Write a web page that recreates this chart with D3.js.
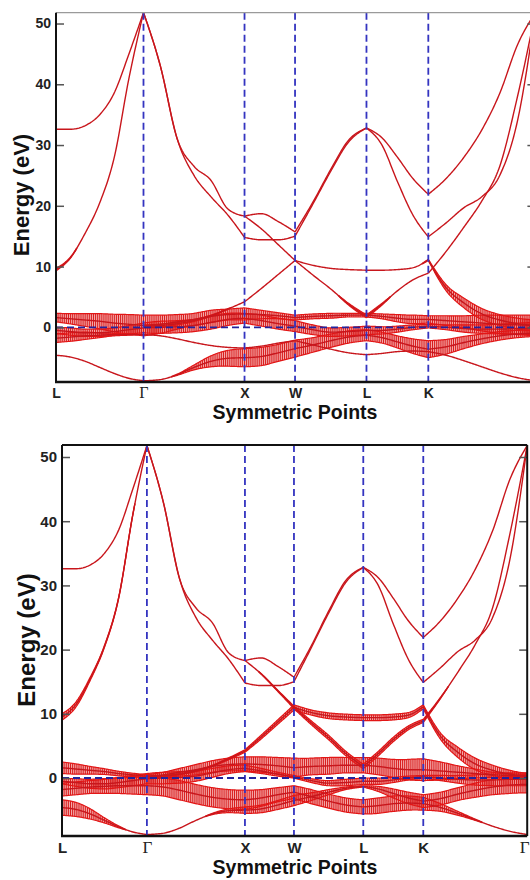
<!DOCTYPE html>
<html><head><meta charset="utf-8">
<script src="https://cdn.jsdelivr.net/npm/d3@7"></script>
<style>body{margin:0;background:#fff}svg{display:block}</style>
</head><body>
<svg id="c" width="530" height="880"></svg>
<script>
// ---------- data ----------
const kGrid = [0, 0.144, 0.289, 0.433, 0.577, 0.722, 0.866, 1.033, 1.2, 1.366, 1.533, 1.7, 1.866,
  2.033, 2.2, 2.366, 2.543, 2.72, 2.896, 3.073, 3.226, 3.379, 3.532, 3.685, 3.862, 4.038, 4.215, 4.392, 4.568, 4.745];
const kNodeIdx = [0, 6, 12, 15, 19, 23, 29];
const kLabels = ["L", "Γ", "X", "W", "L", "K", "Γ"];
const energyTicks = [0, 10, 20, 30, 40, 50];
const N = null;

const bandHC = [32.6, 32.6, 33.2, 35.0, 38.6, 45.0, 51.8, 43.0, 31.0, 26.5, 24.2, 19.5, 18.3, 18.7, 17.4, 15.7, 20.6, 26.0, 30.8, 32.8, 31.2, 28.0, 24.5, 21.9, 24.5, 28.0, 32.5, 38.5, 46.5, 51.8];
const bandHD = [9.5, 11.5, 15.5, 20.5, 28.0, 41.0, 51.8, 43.0, 31.0, 25.0, 21.5, 18.5, 14.8, 14.4, 14.4, 15.0, 20.3, 25.7, 30.5, 32.8, 30.0, 24.0, 18.5, 14.9, 17.2, 19.7, 21.5, 25.0, 34.0, 51.8];
const bandHE = [N, N, N, N, N, N, N, N, N, N, N, N, 18.3, 16.2, 13.6, 11.0, 8.6, 6.3, 3.8, 1.8, 3.8, 6.0, 7.8, 8.9, 12.5, 16.5, 20.8, 26.5, 38.0, 51.8];
const bandT1 = [N, N, N, N, N, N, 0.2, 0.3, 0.6, 1.1, 1.9, 3.0, 4.2, 6.4, 8.7, 11.0, 10.2, 9.7, 9.5, 9.4, 9.4, 9.5, 9.8, 11.1, 6.5, 4.0, 2.2, 1.2, 0.6, 0.3];
const bandF1 = [1.6, 1.4, 1.2, 1.0, 0.7, 0.5, 0.3, 0.5, 0.9, 1.3, 1.8, 2.1, 2.2, 2.1, 1.9, 1.6, 1.8, 1.9, 2.0, 2.0, 1.8, 1.5, 1.3, 1.3, 1.1, 0.9, 0.7, 0.5, 0.4, 0.3];
const bandF2 = [-0.5, -0.7, -0.9, -0.9, -0.7, -0.4, -0.1, 0.0, 0.1, 0.3, 0.8, 1.3, 1.5, 1.1, 0.6, 0.2, -0.4, -0.8, -0.7, -0.5, -0.5, -0.3, 0.0, 0.2, 0.0, -0.2, -0.3, -0.3, -0.2, -0.2];
const bandB0 = [-1.8, -1.6, -1.4, -1.3, -1.2, -1.2, -1.2, -1.4, -1.9, -2.5, -3.0, -3.3, -3.4, -3.1, -2.6, -2.2, -2.9, -3.6, -4.2, -4.5, -4.3, -4.0, -3.9, -4.0, -4.6, -5.5, -6.5, -7.5, -8.3, -8.8];
const bandB1 = [-4.6, -4.9, -5.6, -6.6, -7.6, -8.4, -8.8, -8.6, -7.8, -6.6, -5.6, -5.1, -5.0, -4.8, -4.2, -3.5, -2.9, -2.2, -1.6, -1.3, -1.7, -2.4, -3.1, -3.6, -3.2, -2.5, -1.9, -1.4, -1.1, -1.0];

// fat-band half widths (eV), top panel
const wTopHD = [0.2, 0.1, 0, 0, 0, 0, 0, 0, 0, 0, 0, 0, 0, 0, 0, 0, 0, 0, 0, 0, 0, 0, 0, 0, 0, 0, 0, 0, 0, 0];
const wTopHE = [0, 0, 0, 0, 0, 0, 0, 0, 0, 0, 0, 0, 0, 0, 0, 0, 0, 0, 0.15, 0.25, 0.15, 0, 0, 0, 0, 0, 0, 0, 0, 0];
const wTopT1 = [0, 0, 0, 0, 0, 0, 0.2, 0.2, 0.2, 0.15, 0.1, 0.05, 0, 0, 0, 0, 0, 0, 0, 0, 0, 0, 0, 0.1, 0.5, 0.8, 0.9, 0.9, 0.9, 0.9];
const wTopF1 = [0.7, 0.85, 1.05, 1.25, 1.45, 1.6, 1.7, 1.5, 1.2, 1.0, 1.0, 0.9, 1.0, 0.7, 0.5, 0.4, 0.4, 0.4, 0.3, 0.3, 0.4, 0.6, 0.7, 0.6, 0.8, 1.0, 1.3, 1.5, 1.6, 1.7];
const wTopF2 = [0.5, 0.6, 0.6, 0.6, 0.6, 0.7, 0.8, 1.0, 1.0, 1.0, 1.1, 1.0, 0.8, 0.9, 0.9, 0.9, 0.8, 0.7, 0.7, 0.7, 0.6, 0.5, 0.4, 0.3, 0.4, 0.6, 0.7, 0.8, 0.9, 1.0];
const wTopB0 = [0.7, 0.7, 0.6, 0.4, 0.2, 0.1, 0, 0, 0, 0, 0, 0, 0, 0, 0, 0, 0, 0, 0, 0, 0, 0, 0, 0, 0, 0, 0, 0, 0, 0];
const wTopB1 = [0, 0, 0, 0, 0, 0, 0, 0, 0.1, 0.4, 0.9, 1.3, 1.5, 1.5, 1.4, 1.4, 1.2, 1.1, 1.0, 0.9, 0.9, 1.0, 1.2, 1.4, 1.2, 1.0, 0.8, 0.7, 0.6, 0.5];

// fat-band half widths (eV), bottom panel
const wBotHD = [0.5, 0.4, 0.25, 0.15, 0.1, 0.05, 0, 0, 0, 0, 0, 0, 0, 0, 0, 0, 0, 0, 0, 0, 0, 0, 0, 0, 0, 0, 0, 0, 0, 0];
const wBotHE = [0, 0, 0, 0, 0, 0, 0, 0, 0, 0, 0, 0, 0, 0.05, 0.1, 0.2, 0.3, 0.35, 0.35, 0.35, 0.35, 0.35, 0.3, 0.25, 0.1, 0, 0, 0, 0, 0];
const wBotT1 = [0, 0, 0, 0, 0, 0, 0.1, 0.1, 0.1, 0.1, 0.1, 0.15, 0.2, 0.3, 0.35, 0.4, 0.4, 0.45, 0.45, 0.45, 0.45, 0.45, 0.4, 0.3, 0.5, 0.8, 0.9, 0.8, 0.6, 0.4];
const wBotF1 = [0.9, 0.8, 0.6, 0.45, 0.35, 0.25, 0.2, 0.4, 0.6, 0.8, 0.9, 1.0, 1.1, 1.2, 1.3, 1.5, 1.3, 1.3, 1.2, 1.2, 1.3, 1.4, 1.6, 1.7, 1.4, 1.0, 0.7, 0.4, 0.3, 0.2];
const wBotF2 = [0.4, 0.6, 0.7, 0.8, 0.8, 0.8, 0.8, 0.9, 0.9, 0.8, 0.7, 0.6, 0.5, 0.4, 0.3, 0.2, 0.3, 0.4, 0.5, 0.5, 0.5, 0.4, 0.3, 0.2, 0.4, 0.6, 0.8, 0.9, 1.0, 1.0];
const wBotB0 = [1.0, 1.0, 1.0, 1.1, 1.2, 1.3, 1.4, 1.4, 1.5, 1.5, 1.5, 1.5, 1.5, 1.3, 1.1, 1.0, 1.1, 1.1, 1.1, 1.1, 1.2, 1.2, 1.1, 1.0, 0.6, 0.3, 0.1, 0, 0, 0];
const wBotB1 = [1.2, 1.1, 0.8, 0.4, 0.15, 0, 0, 0, 0, 0, 0.1, 0.3, 0.5, 0.6, 0.7, 0.8, 0.6, 0.4, 0.2, 0.1, 0.4, 0.7, 0.9, 1.0, 1.0, 1.0, 1.1, 1.2, 1.3, 1.3];

const bands = [
  { E: bandB1, wTop: wTopB1, wBot: wBotB1 },
  { E: bandB0, wTop: wTopB0, wBot: wBotB0 },
  { E: bandF2, wTop: wTopF2, wBot: wBotF2 },
  { E: bandF1, wTop: wTopF1, wBot: wBotF1 },
  { E: bandT1, wTop: wTopT1, wBot: wBotT1 },
  { E: bandHE, wTop: wTopHE, wBot: wBotHE },
  { E: bandHD, wTop: wTopHD, wBot: wBotHD },
  { E: bandHC, wTop: null, wBot: null }
];

// ---------- helpers ----------
function slopes(xs, ys) {
  const n = xs.length, t = new Array(n).fill(0), h = [], s = [];
  for (let i = 0; i < n - 1; i++) { h[i] = xs[i + 1] - xs[i]; s[i] = (ys[i + 1] - ys[i]) / h[i]; }
  if (n === 2) { t[0] = t[1] = s[0]; return t; }
  const sg = v => v < 0 ? -1 : 1;
  for (let i = 1; i < n - 1; i++) {
    const p = (s[i - 1] * h[i] + s[i] * h[i - 1]) / (h[i - 1] + h[i]);
    t[i] = (sg(s[i - 1]) + sg(s[i])) * Math.min(Math.abs(s[i - 1]), Math.abs(s[i]), 0.5 * Math.abs(p)) || 0;
  }
  t[0] = (3 * s[0] - t[1]) / 2;
  t[n - 1] = (3 * s[n - 2] - t[n - 2]) / 2;
  return t;
}
function hermite(xs, ys, t, x) {
  let i = 0; while (i < xs.length - 2 && x > xs[i + 1]) i++;
  const h = xs[i + 1] - xs[i], u = (x - xs[i]) / h, u2 = u * u, u3 = u2 * u;
  return (2 * u3 - 3 * u2 + 1) * ys[i] + (u3 - 2 * u2 + u) * h * t[i] + (-2 * u3 + 3 * u2) * ys[i + 1] + (u3 - u2) * h * t[i + 1];
}

const svg = d3.select("#c");
const FONT = "'Liberation Sans', Arial, Helvetica, sans-serif";
const SERIF = "'Liberation Serif', 'DejaVu Serif', serif";

const panels = [
  { id: "p1", key: "wTop", xr: [56, 535.4], yr: [382, 12.7], yd: [-9.0, 51.78],
    tickFs: 14, labFs: 14, labDy: 16, titleFs: 22, titleX: 29, titleY: 195, symY: 419, topColor: "#9a9a9a", rightAxis: false },
  { id: "p2", key: "wBot", xr: [62, 527.2], yr: [836, 445], yd: [-9.03, 51.87],
    tickFs: 15, labFs: 15, labDy: 17, titleFs: 24, titleX: 35, titleY: 640, symY: 874, topColor: "#111", rightAxis: true }
];

panels.forEach(p => {
  const kEnd = kGrid[kGrid.length - 1];
  const x = d3.scaleLinear().domain([0, kEnd]).range(p.xr);
  const y = d3.scaleLinear().domain(p.yd).range(p.yr);
  const [X0, X1] = p.xr, [Y1, Y0] = p.yr;

  svg.append("clipPath").attr("id", "clip" + p.id).append("rect")
    .attr("x", X0).attr("y", Y0 - 2).attr("width", X1 - X0).attr("height", Y1 - Y0 + 2);
  const g = svg.append("g").attr("clip-path", `url(#clip${p.id})`);
  const gFill = g.append("g"), gTick = g.append("g"), gEnv = g.append("g"), gLine = g.append("g");

  const line = d3.line().x(d => x(d.k)).y(d => y(d.e));
  const up = d3.line().defined(d => d.w > 0.04).x(d => x(d.k)).y(d => y(d.e + d.w));
  const lo = d3.line().defined(d => d.w > 0.04).x(d => x(d.k)).y(d => y(d.e - d.w));
  const area = d3.area().defined(d => d.w > 0.04).x(d => x(d.k)).y0(d => y(d.e - d.w)).y1(d => y(d.e + d.w));

  bands.forEach(b => {
    const W = b[p.key];
    for (let s = 0; s < kNodeIdx.length - 1; s++) {
      const i0 = kNodeIdx[s], i1 = kNodeIdx[s + 1];
      const ks = kGrid.slice(i0, i1 + 1), es = b.E.slice(i0, i1 + 1);
      if (es.some(v => v == null)) continue;
      const ws = W ? W.slice(i0, i1 + 1) : ks.map(() => 0);
      const te = slopes(ks, es), tw = slopes(ks, ws);
      const k0 = ks[0], k1 = ks[ks.length - 1];
      const px = x(k1) - x(k0);
      const sample = n => d3.range(n + 1).map(j => {
        const k = k0 + (k1 - k0) * j / n;
        return { k, e: hermite(ks, es, te, k), w: Math.max(0, hermite(ks, ws, tw, k)) };
      });
      const pts = sample(Math.ceil(px));
      if (d3.max(ws) > 0.04) {
        gFill.append("path").datum(pts).attr("d", area).attr("fill", "#f08c8c").attr("opacity", 0.75);
        const tp = sample(Math.round(px / 2.1)).filter(d => d.w > 0.06);
        gTick.selectAll(null).data(tp).join("line")
          .attr("x1", d => x(d.k)).attr("x2", d => x(d.k))
          .attr("y1", d => y(d.e - d.w)).attr("y2", d => y(d.e + d.w))
          .attr("stroke", "#d81c1c").attr("stroke-width", 1.0);
        gEnv.append("path").datum(pts).attr("d", up).attr("fill", "none").attr("stroke", "#e21616").attr("stroke-width", 1.2);
        gEnv.append("path").datum(pts).attr("d", lo).attr("fill", "none").attr("stroke", "#e21616").attr("stroke-width", 1.2);
      }
      gLine.append("path").datum(pts).attr("d", line).attr("fill", "none")
        .attr("stroke", "#c8161c").attr("stroke-width", 1.4);
    }
  });

  // dashed high-symmetry lines and Fermi level
  const gd = svg.append("g");
  kNodeIdx.slice(1, -1).forEach(i => {
    gd.append("line").attr("x1", x(kGrid[i])).attr("x2", x(kGrid[i])).attr("y1", Y0).attr("y2", Y1)
      .attr("stroke", "#3434c0").attr("stroke-width", 1.8).attr("stroke-dasharray", "7,4");
  });
  gd.append("line").attr("x1", X0).attr("x2", X1).attr("y1", y(0)).attr("y2", y(0))
    .attr("stroke", "#24249c").attr("stroke-width", 1.8).attr("stroke-dasharray", "7,4");

  // y axis (ticks inward)
  const ya = svg.append("g").attr("transform", `translate(${X0},0)`)
    .call(d3.axisLeft(y).tickValues(energyTicks).tickSize(-8).tickPadding(5).tickFormat(d3.format("d")));
  ya.select(".domain").remove();
  ya.selectAll(".tick line").attr("stroke", "#555").attr("stroke-width", 1.5);
  ya.selectAll(".tick text").attr("font-family", FONT).attr("font-weight", "bold")
    .attr("font-size", p.tickFs).attr("fill", "#222");

  const yr = svg.append("g").attr("transform", `translate(${X1},0)`)
    .call(d3.axisRight(y).tickValues(energyTicks).tickSize(-8).tickFormat(""));
  yr.select(".domain").remove();
  yr.selectAll(".tick line").attr("stroke", "#555").attr("stroke-width", 1.5);

  // x axis labels (last Γ only where the picture shows it)
  const shown = p.rightAxis ? kNodeIdx : kNodeIdx.slice(0, -1);
  const xa = svg.append("g").attr("transform", `translate(0,${Y1})`)
    .call(d3.axisBottom(x).tickValues(shown.map(i => kGrid[i])).tickSize(0).tickFormat((d, i) => kLabels[i]));
  xa.select(".domain").remove();
  xa.selectAll(".tick text").attr("dy", null).attr("y", p.labDy)
    .attr("font-family", (d, i) => kLabels[i] === "Γ" ? SERIF : FONT)
    .attr("font-weight", (d, i) => kLabels[i] === "Γ" ? "normal" : "bold")
    .attr("font-size", (d, i) => kLabels[i] === "Γ" ? p.labFs + 2 : p.labFs).attr("fill", "#222")
    .attr("text-anchor", (d, i) => i === kLabels.length - 1 ? "end" : "middle")
    .attr("x", (d, i) => i === kLabels.length - 1 ? 529 - x(d) : 0);

  // frame
  svg.append("line").attr("x1", X0).attr("x2", X1).attr("y1", Y0).attr("y2", Y0)
    .attr("stroke", p.topColor).attr("stroke-width", p.rightAxis ? 2 : 1.2);
  svg.append("line").attr("x1", X0).attr("x2", X0).attr("y1", Y0).attr("y2", Y1)
    .attr("stroke", "#111").attr("stroke-width", 2);
  svg.append("line").attr("x1", X0 - 1).attr("x2", X1).attr("y1", Y1).attr("y2", Y1)
    .attr("stroke", "#111").attr("stroke-width", 2.5);
  if (p.rightAxis) svg.append("line").attr("x1", X1).attr("x2", X1).attr("y1", Y0).attr("y2", Y1)
    .attr("stroke", "#111").attr("stroke-width", 2);

  // titles
  svg.append("text").attr("transform", `translate(${p.titleX},${p.titleY}) rotate(-90)`)
    .attr("text-anchor", "middle").attr("font-family", FONT).attr("font-weight", "bold")
    .attr("font-size", p.titleFs).attr("fill", "#111").text("Energy (eV)");
  svg.append("text").attr("x", 295).attr("y", p.symY).attr("text-anchor", "middle")
    .attr("font-family", FONT).attr("font-weight", "bold").attr("font-size", 21)
    .attr("textLength", 165).attr("lengthAdjust", "spacingAndGlyphs")
    .attr("fill", "#111").text("Symmetric Points");
});
</script>
</body></html>
